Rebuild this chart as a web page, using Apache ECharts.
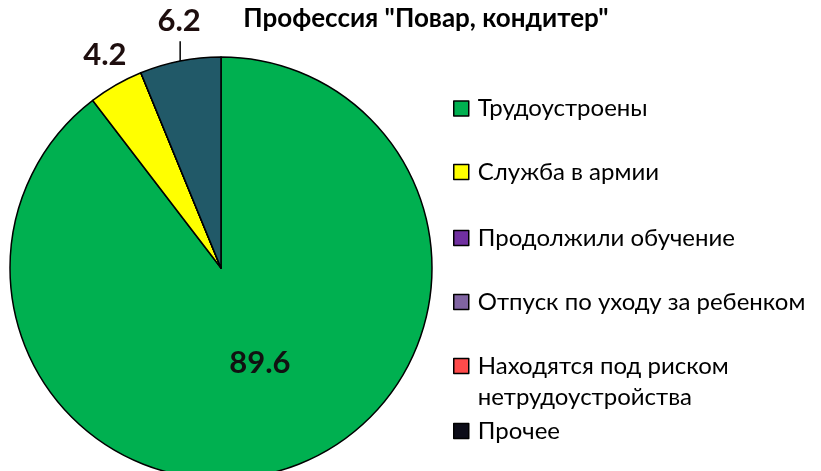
<!DOCTYPE html>
<html>
<head>
<meta charset="utf-8">
<script src="https://cdn.jsdelivr.net/npm/echarts@6/dist/echarts.min.js"></script>
<style>
  html, body { margin: 0; padding: 0; background: #fff; }
  #chart { width: 821px; height: 471px; }
</style>
</head>
<body>
<div id="chart"></div>
<script>
// данные
const categories = [
    'Трудоустроены',
    'Служба в армии',
    'Продолжили обучение',
    'Отпуск по уходу за ребенком',
    'Находятся под риском нетрудоустройства',
    'Прочее'
]
const values = [89.6, 4.2, 0, 0, 0, 6.2]
const sliceColors = ['#00B050', '#FFFF00', '#7030A0', '#8064A2', '#FF4B4B', '#215968']
const legendColors = ['#00B050', '#FFFF00', '#7030A0', '#8064A2', '#FF4B4B', '#0C0C18']
const legendTops = [93, 156.5, 222.5, 286.5, 319.5, 415.5]

const font = 'Lato, "Noto Sans", sans-serif'

const legends = categories.map((name, i) => ({
    left: 453,
    top: legendTops[i],
    padding: 0,
    orient: 'vertical',
    itemWidth: 15,
    itemHeight: 15,
    icon: 'rect',
    selectedMode: false,
    data: [{
        name: name,
        itemStyle: { color: legendColors[i], borderColor: '#000', borderWidth: 1.5 }
    }],
    // пустая первая строка, чтобы маркер стоял напротив первой строки текста
    formatter: (n) => n === categories[4] ? ' \nНаходятся под риском\nнетрудоустройства' : n,
    textStyle: {
        fontFamily: font,
        fontSize: 24,
        color: '#000',
        lineHeight: 31,
        padding: [0, 0, 0, 4]
    }
}))

const option = {
    animation: false,
    title: {
        text: 'Профессия "Повар, кондитер"',
        left: 421,
        top: 1,
        textAlign: 'center',
        textStyle: { fontFamily: font, fontSize: 26, fontWeight: 'bold', color: '#000' }
    },
    legend: legends,
    series: [{
        type: 'pie',
        center: [221, 268],
        radius: 211,
        startAngle: 90,
        clockwise: true,
        stillShowZeroSum: true,
        itemStyle: { borderColor: '#000', borderWidth: 1.5 },
        label: {
            fontFamily: font,
            fontSize: 31,
            fontWeight: 'bold',
            color: '#1E0E0E',
            formatter: (p) => p.value.toFixed(1)
        },
        labelLine: { lineStyle: { color: '#000', width: 1.5 } },
        labelLayout: function (params) {
            const pts = params.labelLinePoints
            if (params.dataIndex === 0) return { dx: 4, dy: -8 }
            if (!pts) return {}
            if (params.dataIndex === 1) {
                return { x: pts[1][0] + 9, y: pts[1][1] - 4, align: 'center', verticalAlign: 'bottom' }
            }
            const top = [pts[0][0], pts[1][1]]
            return {
                x: pts[0][0] - 1,
                y: pts[1][1] - 5,
                align: 'center',
                verticalAlign: 'bottom',
                labelLinePoints: [pts[0], top, top]
            }
        },
        data: categories.map((name, i) => {
            const item = { name: name, value: values[i], itemStyle: { color: sliceColors[i] } }
            if (values[i] === 0) {
                item.label = { show: false }
                item.labelLine = { show: false }
            } else if (i === 0) {
                item.label = { position: 'inside', color: '#111' }
            } else if (i === 1) {
                item.label = { position: 'outside' }
                item.labelLine = { show: false, length: 25, length2: 0 }
            } else {
                item.label = { position: 'outside' }
                item.labelLine = { show: true, length: 20, length2: 0 }
            }
            return item
        })
    }]
}

const myChart = echarts.init(document.getElementById('chart'))
myChart.setOption(option)
</script>
</body>
</html>
